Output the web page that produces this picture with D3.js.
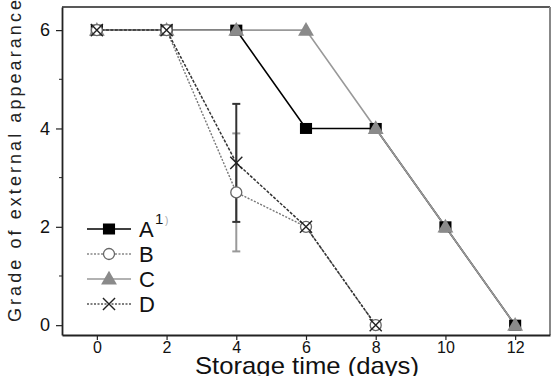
<!DOCTYPE html>
<html>
<head>
<meta charset="utf-8">
<script src="https://cdn.jsdelivr.net/npm/d3@7"></script>
<style>
  body { margin: 0; background: #fff; }
  svg { display: block; font-family: "Liberation Sans", Arial, sans-serif; }
</style>
</head>
<body>
<svg id="chart" width="557" height="376"></svg>
<script>
// chart data
const daysA = [0, 2, 4, 6, 8, 10, 12];
const valuesA = [6, 6, 6, 4, 4, 2, 0];
const daysB = [0, 2, 4, 6, 8];
const valuesB = [6, 6, 2.7, 2, 0];
const daysC = [0, 2, 4, 6, 8, 10, 12];
const valuesC = [6, 6, 6, 6, 4, 2, 0];
const daysD = [0, 2, 4, 6, 8];
const valuesD = [6, 6, 3.3, 2, 0];
// error bars at day 4 (B and D)
const errorBars = [
  { series: "B", day: 4, low: 1.5, high: 3.9 },
  { series: "D", day: 4, low: 2.1, high: 4.5 }
];
const xTicks = [0, 2, 4, 6, 8, 10, 12];
const yTicks = [0, 2, 4, 6];
const yMinorTicks = [1, 3, 5];
const legendNames = ["A", "B", "C", "D"];

const colors = {
  A: "#000",
  B: "#777",
  C: "#999",
  D: "#333",
  axis: "#222"
};
const fontFamily = "'Liberation Sans', Arial, sans-serif";

const margin = { left: 62, top: 7, right: 7, bottom: 41 };
const width = 557, height = 376;

const svg = d3.select("#chart");

const x = d3.scaleLinear().domain([-1, 13]).range([margin.left, width - margin.right]);
const y = d3.scaleLinear().domain([-0.2, 6.47]).range([height - margin.bottom, margin.top]);

// frame (top + right)
svg.append("line")
  .attr("x1", margin.left).attr("x2", width - margin.right)
  .attr("y1", margin.top).attr("y2", margin.top)
  .attr("stroke", colors.axis).attr("stroke-width", 1.5);
svg.append("line")
  .attr("x1", width - margin.right).attr("x2", width - margin.right)
  .attr("y1", margin.top).attr("y2", height - margin.bottom)
  .attr("stroke", "#888").attr("stroke-width", 2);

// x axis
const xAxis = svg.append("g")
  .attr("transform", `translate(0,${height - margin.bottom})`)
  .call(d3.axisBottom(x).tickValues(xTicks).tickFormat(d3.format("d")).tickSize(5).tickPadding(2).tickSizeOuter(0));
xAxis.attr("font-family", fontFamily);
xAxis.select(".domain").attr("stroke", colors.axis).attr("stroke-width", 1.8);
xAxis.selectAll(".tick line").attr("stroke", colors.axis).attr("stroke-width", 1.2);
xAxis.selectAll(".tick text").attr("font-size", 16).attr("fill", "#111");

// y axis
const yAxis = svg.append("g")
  .attr("transform", `translate(${margin.left},0)`)
  .call(d3.axisLeft(y).tickValues(yTicks).tickFormat(d3.format("d")).tickSize(6).tickPadding(6).tickSizeOuter(0));
yAxis.attr("font-family", fontFamily);
yAxis.select(".domain").attr("stroke", colors.axis).attr("stroke-width", 1.8);
yAxis.selectAll(".tick line").attr("stroke", colors.axis).attr("stroke-width", 1.2);
yAxis.selectAll(".tick text").attr("font-size", 18).attr("fill", "#111");

svg.append("g")
  .selectAll("line")
  .data(yMinorTicks)
  .enter().append("line")
  .attr("x1", margin.left - 3).attr("x2", margin.left)
  .attr("y1", d => y(d)).attr("y2", d => y(d))
  .attr("stroke", colors.axis).attr("stroke-width", 1);

// axis titles
svg.append("text")
  .attr("x", 195).attr("y", 374)
  .attr("font-size", 24)
  .attr("textLength", 224).attr("lengthAdjust", "spacingAndGlyphs")
  .attr("fill", "#111")
  .text("Storage time (days)");

svg.append("text")
  .attr("transform", "translate(21,322) rotate(-90)")
  .attr("font-size", 18)
  .attr("textLength", 322).attr("lengthAdjust", "spacing")
  .attr("fill", "#222")
  .text("Grade of external appearance");

// error bars
const capW = 4;
errorBars.forEach(e => {
  const g = svg.append("g").attr("stroke", e.series === "B" ? "#999" : "#333").attr("stroke-width", 2);
  g.append("line").attr("x1", x(e.day)).attr("x2", x(e.day)).attr("y1", y(e.low)).attr("y2", y(e.high));
  [e.low, e.high].forEach(v => {
    g.append("line").attr("x1", x(e.day) - capW).attr("x2", x(e.day) + capW).attr("y1", y(v)).attr("y2", y(v));
  });
});

const line = d3.line().x(d => x(d[0])).y(d => y(d[1]));

const series = [
  { name: "A", days: daysA, values: valuesA, color: colors.A, dash: null, width: 1.6 },
  { name: "C", days: daysC, values: valuesC, color: colors.C, dash: null, width: 1.6 },
  { name: "B", days: daysB, values: valuesB, color: colors.B, dash: "2,1.5", width: 1.4 },
  { name: "D", days: daysD, values: valuesD, color: colors.D, dash: "3,1.5", width: 1.5 }
];

function drawMarker(g, name, cx, cy, s) {
  if (name === "A") {
    g.append("rect").attr("x", cx - s * 0.55).attr("y", cy - s * 0.5).attr("width", s * 1.1).attr("height", s)
      .attr("fill", "#000");
  } else if (name === "B") {
    g.append("circle").attr("cx", cx).attr("cy", cy).attr("r", s * 0.5)
      .attr("fill", "#fff").attr("stroke", "#666").attr("stroke-width", 1.3);
  } else if (name === "C") {
    g.append("path").attr("d", d3.symbol(d3.symbolTriangle, s * s * 0.9)())
      .attr("transform", `translate(${cx},${cy + 1})`)
      .attr("fill", "#8a8a8a");
  } else {
    const h = s * 0.55;
    g.append("path").attr("d", `M${cx - h},${cy - h}L${cx + h},${cy + h}M${cx - h},${cy + h}L${cx + h},${cy - h}`)
      .attr("stroke", "#222").attr("stroke-width", 1.4).attr("fill", "none");
  }
}

series.forEach(s => {
  const pts = s.days.map((d, i) => [d, s.values[i]]);
  svg.append("path")
    .attr("d", line(pts))
    .attr("fill", "none")
    .attr("stroke", s.color)
    .attr("stroke-width", s.width)
    .attr("stroke-dasharray", s.dash);
});
series.forEach(s => {
  const g = svg.append("g");
  s.days.forEach((d, i) => drawMarker(g, s.name, x(d), y(s.values[i]), 11));
});

// legend
const legendStyle = {
  A: { color: colors.A, dash: null },
  B: { color: "#888", dash: "2,1.5" },
  C: { color: colors.C, dash: null },
  D: { color: "#555", dash: "2,1.5" }
};
const legend = svg.append("g");
legendNames.forEach((name, i) => {
  const ly = 229 + i * 25;
  legend.append("line")
    .attr("x1", 87).attr("x2", 131).attr("y1", ly).attr("y2", ly)
    .attr("stroke", legendStyle[name].color).attr("stroke-width", 1.5)
    .attr("stroke-dasharray", legendStyle[name].dash);
  drawMarker(legend, name, 109, ly, 11);
  legend.append("text")
    .attr("x", 139).attr("y", ly + 7.5)
    .attr("font-size", 22).attr("fill", "#111")
    .text(name);
});
legend.append("text")
  .attr("x", 155).attr("y", 224).attr("font-size", 15).attr("fill", "#111").text("1");
legend.append("text")
  .attr("x", 165).attr("y", 224).attr("font-size", 10).attr("fill", "#aaa").text(")");
</script>
</body>
</html>
